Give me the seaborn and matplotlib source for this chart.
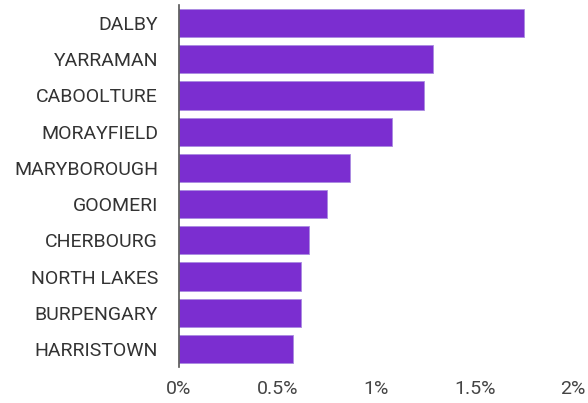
import matplotlib
matplotlib.use("Agg")
import matplotlib.pyplot as plt
import seaborn as sns
import pandas as pd
from matplotlib.ticker import FuncFormatter

towns = ["DALBY", "YARRAMAN", "CABOOLTURE", "MORAYFIELD", "MARYBOROUGH",
         "GOOMERI", "CHERBOURG", "NORTH LAKES", "BURPENGARY", "HARRISTOWN"]
values = [1.75, 1.29, 1.245, 1.08, 0.87, 0.75, 0.66, 0.62, 0.62, 0.58]
x_ticks = [0, 0.5, 1, 1.5, 2]

df = pd.DataFrame({"town": towns, "value": values})

sns.set_style("white")
plt.rcParams["font.family"] = ["Roboto", "DejaVu Sans"]

fig = plt.figure(figsize=(5.88, 4.03), dpi=100)
ax = fig.add_axes([0.304, 0.089, 0.671, 0.899])

sns.barplot(data=df, x="value", y="town", color="#7B2ED0", saturation=1,
            width=0.78, edgecolor="#A98BE0", linewidth=0.6, ax=ax)

ax.set_xlim(0, 2)
ax.set_xticks(x_ticks)
ax.xaxis.set_major_formatter(FuncFormatter(lambda v, p: f"{v:g}%"))
ax.set_xlabel("")
ax.set_ylabel("")
for s in ["top", "right", "bottom"]:
    ax.spines[s].set_visible(False)
ax.spines["left"].set_color("#555555")
ax.spines["left"].set_linewidth(1.2)
ax.tick_params(axis="both", length=0, labelsize=14, colors="#333333")
ax.tick_params(axis="x", pad=9, colors="#444444")
ax.tick_params(axis="y", pad=15)
ax.grid(False)

fig.savefig("out.png", dpi=100)
